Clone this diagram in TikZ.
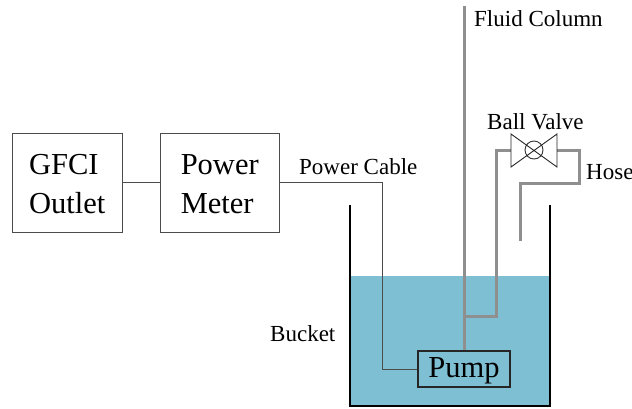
\documentclass[tikz,border=0pt]{standalone}
\usepackage{fontspec}
\setmainfont{Liberation Serif}
\definecolor{water}{HTML}{7FBFD4}
\definecolor{pipe}{HTML}{8F8F8F}
\newcommand{\boxlines}[1]{\raisebox{-4pt}[\height][\depth]{\begin{tabular}{@{}l@{}}#1\end{tabular}}}
\tikzset{
  x=1pt,y=-1pt,
  boxnode/.style={draw=black!70,line width=1pt,minimum width=#1,inner sep=0pt,font=\fontsize{30.5}{39}\selectfont},
  wire/.style={draw=black!70,line width=1pt},
  hose/.style={draw=pipe,line width=3pt},
  bucketwall/.style={draw=black,line width=1.2pt},
  lbl/.style={inner sep=0pt,font=\fontsize{23}{26}\selectfont,anchor=base west}
}
\begin{document}
\begin{tikzpicture}
\useasboundingbox (0,0) rectangle (632,408);
\fill[water] (350,276) rectangle (550,406);
% bucket
\draw[bucketwall] (350,205) -- (350,406) -- (550,406) -- (550,205);
% boxes
\node[boxnode=109.5pt,minimum height=99pt] (gfci) at (67.25,182.5) {\boxlines{GFCI\\Outlet}};
\node[boxnode=118.5pt,minimum height=99pt] (meter) at (219.75,182.5) {\boxlines{Power\\Meter}};
\node[draw=black!85,line width=1.1pt,minimum width=92pt,minimum height=36pt,inner sep=0pt,font=\fontsize{30.5}{32}\selectfont] (pump) at (464,369) {\raisebox{-2pt}[\height][\depth]{Pump}};
% valve
\coordinate (vl) at (511,150);
\coordinate (vr) at (557,150);
% hoses
\coordinate (ftop) at (464,6);
\coordinate (tee) at (464,316);
\coordinate (b1) at (496,316);
\coordinate (b2) at (496,150);
\coordinate (h1) at (579,150);
\coordinate (h2) at (579,183);
\coordinate (h3) at (520,183);
\coordinate (h4) at (520,241);
\draw[hose] (ftop) -- (pump.north);
\draw[hose] (tee) -- (b1) -- (b2) -- (vl);
\draw[hose] (vr) -- (h1) -- (h2) -- (h3) -- (h4);
\node[draw=black!80,circle,line width=0.9pt,minimum size=18pt,inner sep=0pt] (ball) at (534,150) {};
\draw[black!85,line width=0.9pt] (511,134) -- (557,167) -- (557,134) -- (511,167) -- cycle;
% wires
\draw[wire] (gfci.east |- 0,182) -- (meter.west |- 0,182);
\coordinate (c1) at (382,182);
\coordinate (c2) at (382,369);
\draw[wire] (meter.east |- 0,182) -- (c1) -- (c2) -- (pump.west);
% labels
\node[lbl] (t1) at (474,26) {Fluid Column};
\node[lbl] (t2) at (487,129) {Ball Valve};
\node[lbl] (t3) at (586,179.5) {Hose};
\node[lbl] (t4) at (299,174.5) {Power Cable};
\node[lbl] (t5) at (270,341.5) {Bucket};
\end{tikzpicture}
\end{document}
